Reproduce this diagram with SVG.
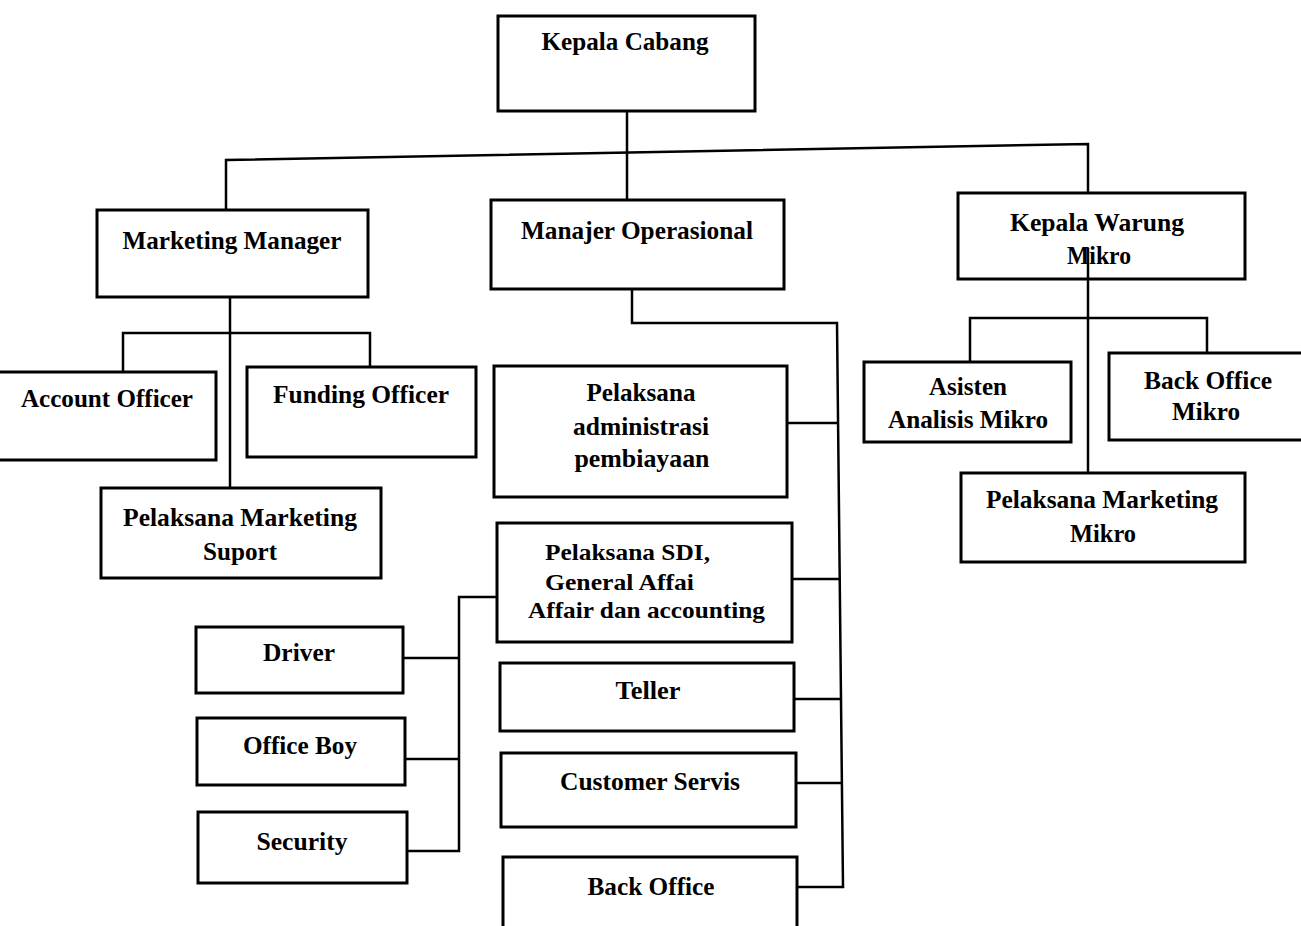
<svg xmlns="http://www.w3.org/2000/svg" width="1301" height="926" viewBox="0 0 1301 926">
<style>
.box{fill:#fff;stroke:#000;stroke-width:3}
.t{font-family:"Liberation Serif","Times New Roman",serif;font-weight:bold;font-size:26px;fill:#000;text-anchor:middle}
.s{text-anchor:start;font-size:24px}
.c{fill:none;stroke:#000;stroke-width:2.5}
</style>
<rect width="1301" height="926" fill="#fff"/>
<g id="kepala-cabang"><rect class="box" x="498" y="16" width="257" height="95"/><text class="t" x="625" y="50" textLength="167" lengthAdjust="spacingAndGlyphs">Kepala Cabang</text></g>
<g id="marketing-manager"><rect class="box" x="97" y="210" width="271" height="87"/><text class="t" x="232" y="249" textLength="219" lengthAdjust="spacingAndGlyphs">Marketing Manager</text></g>
<g id="manajer-operasional"><rect class="box" x="491" y="200" width="293" height="89"/><text class="t" x="637" y="239" textLength="232" lengthAdjust="spacingAndGlyphs">Manajer Operasional</text></g>
<g id="kepala-warung"><rect class="box" x="958" y="193" width="287" height="86"/><text class="t" x="1097" y="231" textLength="174" lengthAdjust="spacingAndGlyphs">Kepala Warung</text><text class="t" x="1099" y="264" textLength="64" lengthAdjust="spacingAndGlyphs">Mikro</text></g>
<g id="account-officer"><rect class="box" x="-5" y="372" width="221" height="88"/><text class="t" x="107" y="407" textLength="172" lengthAdjust="spacingAndGlyphs">Account Officer</text></g>
<g id="funding-officer"><rect class="box" x="247" y="367" width="229" height="90"/><text class="t" x="361" y="403" textLength="176" lengthAdjust="spacingAndGlyphs">Funding Officer</text></g>
<g id="pelaksana-marketing-suport"><rect class="box" x="101" y="488" width="280" height="90"/><text class="t" x="240" y="526" textLength="234" lengthAdjust="spacingAndGlyphs">Pelaksana Marketing</text><text class="t" x="240" y="560" textLength="74" lengthAdjust="spacingAndGlyphs">Suport</text></g>
<g id="pelaksana-administrasi"><rect class="box" x="494" y="366" width="293" height="131"/><text class="t" x="641" y="401" textLength="109" lengthAdjust="spacingAndGlyphs">Pelaksana</text><text class="t" x="641" y="435" textLength="136" lengthAdjust="spacingAndGlyphs">administrasi</text><text class="t" x="642" y="467" textLength="135" lengthAdjust="spacingAndGlyphs">pembiayaan</text></g>
<g id="pelaksana-sdi"><rect class="box" x="497" y="523" width="295" height="119"/><text class="t s" x="545" y="560" textLength="165" lengthAdjust="spacingAndGlyphs">Pelaksana SDI,</text><text class="t s" x="545" y="590" textLength="149" lengthAdjust="spacingAndGlyphs">General Affai</text><text class="t s" x="528" y="618" textLength="237" lengthAdjust="spacingAndGlyphs">Affair dan accounting</text></g>
<g id="driver"><rect class="box" x="196" y="627" width="207" height="66"/><text class="t" x="299" y="661" textLength="72" lengthAdjust="spacingAndGlyphs">Driver</text></g>
<g id="office-boy"><rect class="box" x="197" y="718" width="208" height="67"/><text class="t" x="300" y="754" textLength="114" lengthAdjust="spacingAndGlyphs">Office Boy</text></g>
<g id="security"><rect class="box" x="198" y="812" width="209" height="71"/><text class="t" x="302" y="850" textLength="91" lengthAdjust="spacingAndGlyphs">Security</text></g>
<g id="teller"><rect class="box" x="500" y="663" width="294" height="68"/><text class="t" x="648" y="699" textLength="65" lengthAdjust="spacingAndGlyphs">Teller</text></g>
<g id="customer-servis"><rect class="box" x="501" y="753" width="295" height="74"/><text class="t" x="650" y="790" textLength="180" lengthAdjust="spacingAndGlyphs">Customer Servis</text></g>
<g id="back-office"><rect class="box" x="503" y="857" width="294" height="80"/><text class="t" x="651" y="895" textLength="127" lengthAdjust="spacingAndGlyphs">Back Office</text></g>
<g id="asisten-analisis-mikro"><rect class="box" x="864" y="362" width="207" height="80"/><text class="t" x="968" y="395" textLength="78" lengthAdjust="spacingAndGlyphs">Asisten</text><text class="t" x="968" y="428" textLength="160" lengthAdjust="spacingAndGlyphs">Analisis Mikro</text></g>
<g id="back-office-mikro"><rect class="box" x="1109" y="353" width="200" height="87"/><text class="t" x="1208" y="389" textLength="128" lengthAdjust="spacingAndGlyphs">Back Office</text><text class="t" x="1206" y="420" textLength="68" lengthAdjust="spacingAndGlyphs">Mikro</text></g>
<g id="pelaksana-marketing-mikro"><rect class="box" x="961" y="473" width="284" height="89"/><text class="t" x="1102" y="508" textLength="232" lengthAdjust="spacingAndGlyphs">Pelaksana Marketing</text><text class="t" x="1103" y="542" textLength="66" lengthAdjust="spacingAndGlyphs">Mikro</text></g>
<g id="connectors">
<path class="c" d="M627 111 V200"/>
<path class="c" d="M226 210 V160 L1088 144 V193"/>
<path class="c" d="M230 297 V488"/>
<path class="c" d="M123 372 V333 H370 V367"/>
<path class="c" d="M632 289 V323 H837 L843 887 H797"/>
<path class="c" d="M787 423 H838"/>
<path class="c" d="M792 579 H840"/>
<path class="c" d="M794 699 H842"/>
<path class="c" d="M796 783 H843"/>
<path class="c" d="M497 597 H459 V851 H407"/>
<path class="c" d="M403 658 H459"/>
<path class="c" d="M405 759 H459"/>
<path class="c" d="M1088 248 V473"/>
<path class="c" d="M970 362 V318 H1207 V353"/>
</g>
</svg>
